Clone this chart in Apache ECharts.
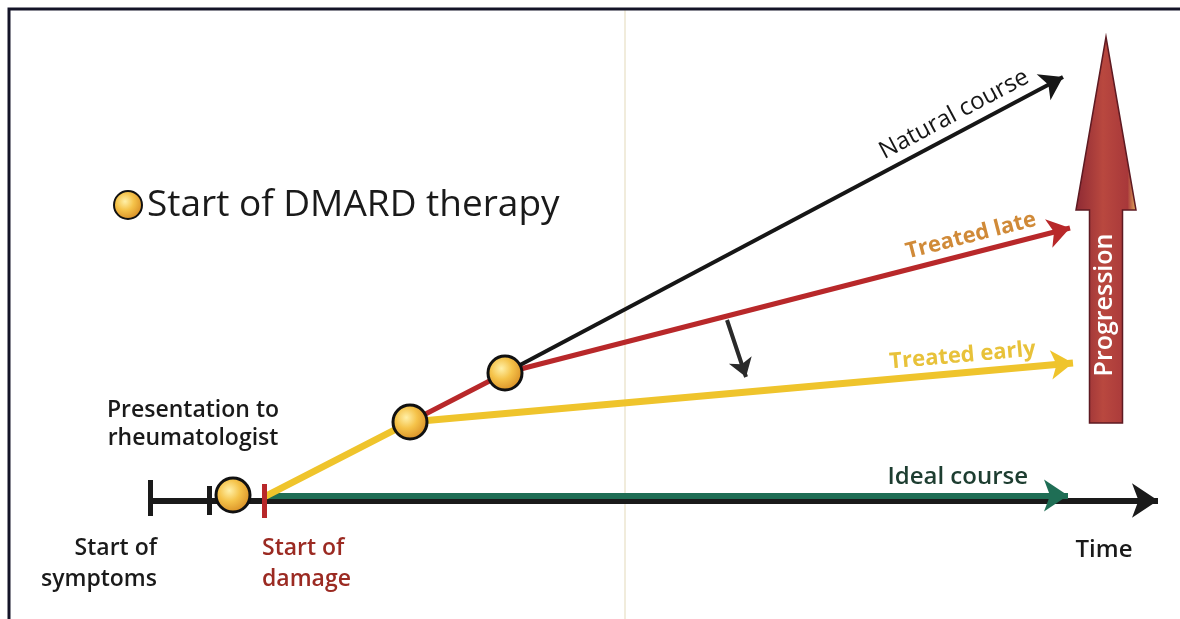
<!DOCTYPE html>
<html>
<head>
<meta charset="utf-8">
<script src="https://cdn.jsdelivr.net/npm/echarts@6/dist/echarts.min.js"></script>
<style>
html,body{margin:0;padding:0;background:#fff;}
#chart{width:1180px;height:619px;}
</style>
</head>
<body>
<div id="chart"></div>
<script>
// ---- data (time units on x, damage units on y; baseline = 0) ----
const timeAxis = [[15.0, -0.35], [115.8, -0.35]];
const idealCourse = [[26.4, 0.15], [106.8, 0.15]];
const earlyRise = [[26.6, 0.1], [41.0, 7.5]];
const treatedEarly = [[41.0, 7.5], [107.3, 13.4]];
const lateRise = [[41.0, 7.5], [50.5, 12.4]];
const treatedLate = [[50.5, 12.4], [107.0, 26.9]];
const naturalCourse = [[50.5, 12.4], [106.3, 42.0]];
const improvementArrow = [[72.7, 17.7], [74.6, 12.0]];
const eventTicks = [
  { name: 'Start of symptoms', x: 15.0, y0: -1.9, y1: 1.7, c: '#1a1a1a' },
  { name: 'Presentation to rheumatologist', x: 20.9, y0: -1.8, y1: 1.1, c: '#1a1a1a' },
  { name: 'Start of damage', x: 26.4, y0: -2.1, y1: 1.3, c: '#b8282a' }
];
const dmardStarts = [[23.3, 0.2], [41.0, 7.5], [50.5, 12.4]];
const progression = [[110.6, 7.4, 28.7, 46.0]]; // x, bottom, head base, tip

const circleFill = {
  type: 'radial', x: 0.4, y: 0.38, r: 0.65,
  colorStops: [{ offset: 0, color: '#fff0a8' }, { offset: 0.45, color: '#f5c34a' }, { offset: 1, color: '#d68a22' }]
};
const FONT = '"Open Sans", "Noto Sans", sans-serif';

function seg(coords, color, label, labelColor) {
  return { coords: coords, lineStyle: { color: color },
    label: label ? { show: true, formatter: label, color: labelColor || color } : { show: false } };
}
function lbl(size, weight, padRight) {
  return { show: true, position: 'insideEndTop', fontSize: size, fontFamily: FONT, fontWeight: weight,
           distance: 6, padding: [0, padRight, 0, 0] };
}

const chart = echarts.init(document.getElementById('chart'));
chart.setOption({
  animation: false,
  backgroundColor: '#ffffff',
  grid: { left: 0, right: 0, top: 0, bottom: 0 },
  xAxis: { type: 'value', min: 0, max: 118, show: false },
  yAxis: { type: 'value', min: -12.2, max: 49.7, show: false },
  legend: {
    data: [{ name: 'Start of DMARD therapy', icon: 'circle' }],
    left: 108, top: 180, itemWidth: 28, itemHeight: 28, itemGap: 5,
    textStyle: { fontSize: 37, color: '#1a1a1a', fontFamily: FONT, lineHeight: 40 },
    selectedMode: false
  },
  graphic: [
    { type: 'line', shape: { x1: 625, y1: 8, x2: 625, y2: 619 }, style: { stroke: '#f1ecdc', lineWidth: 2 }, z: 0 },
    { type: 'polyline', shape: { points: [[9, 619], [9, 9], [1180, 9]] }, style: { stroke: '#141428', lineWidth: 3, fill: null }, z: 10 },
    { type: 'text', x: 193, y: 410, style: { text: 'Presentation to', font: '600 23px ' + FONT, fill: '#1a1a1a', align: 'center', verticalAlign: 'middle' } },
    { type: 'text', x: 193, y: 438, style: { text: 'rheumatologist', font: '600 23px ' + FONT, fill: '#1a1a1a', align: 'center', verticalAlign: 'middle' } },
    { type: 'text', x: 157, y: 548, style: { text: 'Start of', font: '600 23px ' + FONT, fill: '#1a1a1a', align: 'right', verticalAlign: 'middle' } },
    { type: 'text', x: 157, y: 579, style: { text: 'symptoms', font: '600 23px ' + FONT, fill: '#1a1a1a', align: 'right', verticalAlign: 'middle' } },
    { type: 'text', x: 262, y: 548, style: { text: 'Start of', font: '600 23px ' + FONT, fill: '#9b2a22', align: 'left', verticalAlign: 'middle' } },
    { type: 'text', x: 262, y: 579, style: { text: 'damage', font: '600 23px ' + FONT, fill: '#9b2a22', align: 'left', verticalAlign: 'middle' } },
    { type: 'text', x: 1104, y: 550, style: { text: 'Time', font: '600 24px ' + FONT, fill: '#1a1a1a', align: 'center', verticalAlign: 'middle' } }
  ],
  series: [
    {
      type: 'lines', coordinateSystem: 'cartesian2d', z: 2,
      symbol: ['none', 'arrow'], symbolSize: 26,
      lineStyle: { width: 6, opacity: 1 },
      data: [seg(timeAxis, '#1a1a1a')]
    },
    {
      type: 'lines', coordinateSystem: 'cartesian2d', z: 3,
      symbol: ['none', 'arrow'], symbolSize: 24,
      lineStyle: { width: 6, opacity: 1 },
      label: lbl(24, 600, 34),
      data: [seg(idealCourse, '#1f6e55', 'Ideal course', '#1d3d30')]
    },
    {
      type: 'lines', coordinateSystem: 'cartesian2d', z: 4,
      symbol: ['none', 'none'],
      lineStyle: { width: 7, opacity: 1, cap: 'round' },
      data: [seg(earlyRise, '#efc42c')]
    },
    {
      type: 'lines', coordinateSystem: 'cartesian2d', z: 4,
      symbol: ['none', 'arrow'], symbolSize: 22,
      lineStyle: { width: 7, opacity: 1 },
      label: lbl(22, 700, 30),
      data: [seg(treatedEarly, '#efc42c', 'Treated early', '#e8c23a')]
    },
    {
      type: 'lines', coordinateSystem: 'cartesian2d', z: 5,
      symbol: ['none', 'none'],
      lineStyle: { width: 5, opacity: 1, cap: 'round' },
      data: [seg(lateRise, '#b8282a')]
    },
    {
      type: 'lines', coordinateSystem: 'cartesian2d', z: 5,
      symbol: ['none', 'arrow'], symbolSize: 22,
      lineStyle: { width: 5, opacity: 1 },
      label: lbl(22, 700, 25),
      data: [seg(treatedLate, '#b8282a', 'Treated late', '#d08a38')]
    },
    {
      type: 'lines', coordinateSystem: 'cartesian2d', z: 6,
      symbol: ['none', 'arrow'], symbolSize: 22,
      lineStyle: { width: 4, opacity: 1 },
      label: lbl(24, 500, 25),
      data: [seg(naturalCourse, '#161616', 'Natural course', '#161616')]
    },
    {
      type: 'lines', coordinateSystem: 'cartesian2d', z: 6,
      symbol: ['none', 'arrow'], symbolSize: 18,
      lineStyle: { width: 4, opacity: 1 },
      data: [seg(improvementArrow, '#2a2a2a')]
    },
    {
      type: 'lines', coordinateSystem: 'cartesian2d', z: 7,
      symbol: ['none', 'none'],
      lineStyle: { width: 5, opacity: 1 },
      data: eventTicks.map(t => ({ name: t.name, coords: [[t.x, t.y0], [t.x, t.y1]], lineStyle: { color: t.c } }))
    },
    {
      type: 'custom', z: 8,
      data: progression,
      renderItem: function (params, api) {
        const xc = api.value(0);
        const pB = api.coord([xc, api.value(1)]);
        const pH = api.coord([xc, api.value(2)]);
        const pT = api.coord([xc, api.value(3)]);
        const sw = 16.5, hw = 30;
        const cx = pB[0];
        const pts = [[cx - sw, pB[1]], [cx - sw, pH[1]], [cx - hw, pH[1]], [cx, pT[1]],
                     [cx + hw, pH[1]], [cx + sw, pH[1]], [cx + sw, pB[1]]];
        return {
          type: 'group',
          children: [
            { type: 'polygon', shape: { points: pts },
              style: { fill: { type: 'linear', x: 0, y: 0, x2: 1, y2: 0,
                colorStops: [{ offset: 0, color: '#8e2a34' }, { offset: 0.45, color: '#b9483f' }, { offset: 0.85, color: '#a8383a' }, { offset: 1, color: '#e8b860' }] },
                stroke: '#5e1a22', lineWidth: 1.5 } },
            { type: 'text', x: cx - 1, y: 305, rotation: Math.PI / 2,
              style: { text: 'Progression', font: '600 25px ' + FONT, fill: '#ffffff', align: 'center', verticalAlign: 'middle' } }
          ]
        };
      }
    },
    {
      type: 'scatter', name: 'Start of DMARD therapy', z: 9,
      symbol: 'circle', symbolSize: 34,
      itemStyle: { color: circleFill, borderColor: '#111111', borderWidth: 3, opacity: 1 },
      data: dmardStarts
    }
  ]
});
</script>
</body>
</html>
